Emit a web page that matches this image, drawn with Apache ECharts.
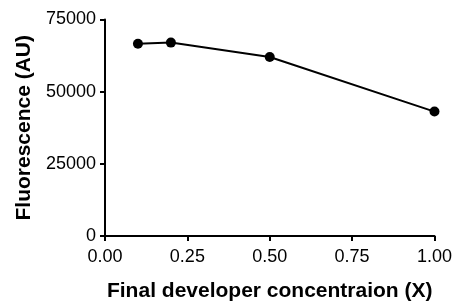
<!DOCTYPE html>
<html><head><meta charset="utf-8">
<script src="https://cdn.jsdelivr.net/npm/echarts@6/dist/echarts.min.js"></script>
<style>html,body{margin:0;padding:0;background:#fff}#c{width:455px;height:307px}</style>
</head><body><div id="c"></div>
<script>
const xValues = [0.1, 0.2, 0.5, 1.0];
const fluorescence = [66600, 67000, 62000, 43100];
const xTicks = [0, 0.25, 0.5, 0.75, 1.0];
const yTicks = [0, 25000, 50000, 75000];

const chart = echarts.init(document.getElementById('c'));
const font = '"Liberation Sans", Arial, sans-serif';
chart.setOption({
  animation: false,
  grid: {left: 105, right: 18, top: 19.5, bottom: 66.3, containLabel: false},
  xAxis: {
    type: 'value', min: 0, max: 1, interval: 0.25,
    name: 'Final developer concentraion (X)', nameLocation: 'middle', nameGap: 45,
    nameTextStyle: {fontFamily: font, fontWeight: 'bold', fontSize: 21, color: '#000'},
    axisLine: {lineStyle: {color: '#000', width: 2}},
    axisTick: {show: true, length: 5, lineStyle: {color: '#000', width: 2}},
    axisLabel: {fontFamily: font, fontSize: 18, color: '#000', margin: 12, formatter: v => v.toFixed(2)},
    splitLine: {show: false}
  },
  yAxis: {
    type: 'value', min: 0, max: 75000, interval: 25000,
    name: 'Fluorescence (AU)', nameLocation: 'middle', nameGap: 68,
    nameTextStyle: {fontFamily: font, fontWeight: 'bold', fontSize: 21, color: '#000'},
    axisLine: {show: true, lineStyle: {color: '#000', width: 2}},
    axisTick: {show: true, length: 5, lineStyle: {color: '#000', width: 2}},
    axisLabel: {fontFamily: font, fontSize: 18, color: '#000', margin: 9, formatter: v => String(v)},
    splitLine: {show: false}
  },
  series: [{
    type: 'line',
    data: xValues.map((x, i) => [x, fluorescence[i]]),
    symbol: 'circle', symbolSize: 10,
    itemStyle: {color: '#000'},
    lineStyle: {color: '#000', width: 2}
  }]
});
</script></body></html>
